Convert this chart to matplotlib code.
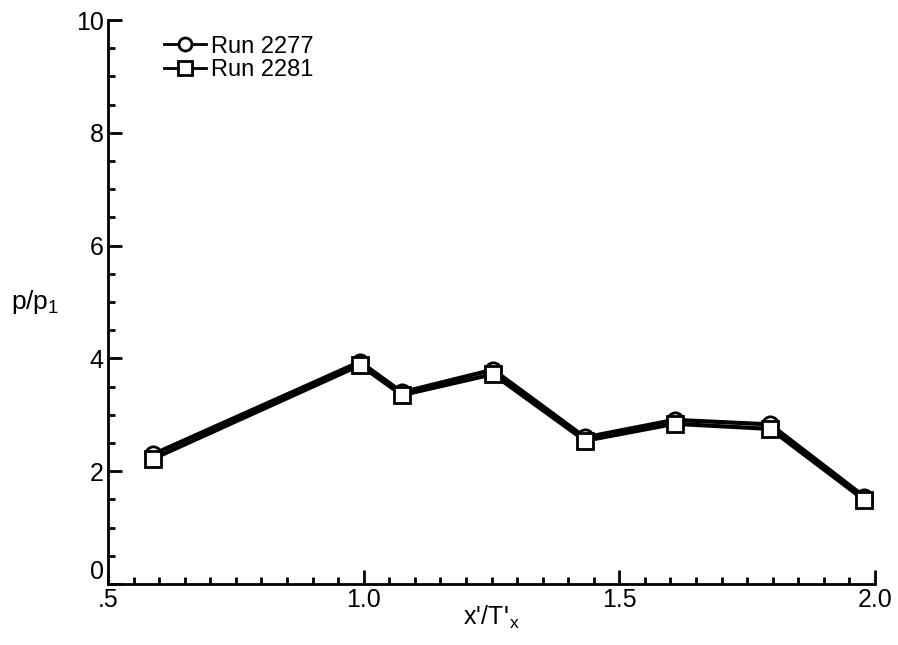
import matplotlib.pyplot as plt
from matplotlib.ticker import MultipleLocator, FixedLocator, FixedFormatter

plt.rcParams['font.family'] = ['Liberation Sans', 'DejaVu Sans']

# x'/T'x positions and pressure ratios
x_2277 = [0.588, 0.993, 1.075, 1.253, 1.433, 1.608, 1.795, 1.979]
p_2277 = [2.30, 3.94, 3.40, 3.80, 2.60, 2.91, 2.83, 1.55]
x_2281 = [0.588, 0.993, 1.075, 1.253, 1.433, 1.608, 1.795, 1.979]
p_2281 = [2.22, 3.88, 3.35, 3.72, 2.54, 2.84, 2.75, 1.49]

xticks = [0.5, 1.0, 1.5, 2.0]
xtick_labels = ['.5', '1.0', '1.5', '2.0']
yticks = [0, 2, 4, 6, 8, 10]

fig = plt.figure(figsize=(8.98, 6.45), dpi=100)
ax = fig.add_axes([108 / 898, 61 / 645, 767 / 898, 564 / 645])

ax.plot(x_2277, p_2277, '-o', color='black', lw=3, ms=11, mfc='white',
        mec='black', mew=2, label='Run 2277')
ax.plot(x_2281, p_2281, '-s', color='black', lw=3, ms=12, mfc='white',
        mec='black', mew=2, label='Run 2281')

ax.set_xlim(0.5, 2.0)
ax.set_ylim(0, 10)
ax.xaxis.set_major_locator(FixedLocator(xticks))
ax.xaxis.set_major_formatter(FixedFormatter(xtick_labels))
ax.xaxis.set_minor_locator(MultipleLocator(0.05))
ax.yaxis.set_major_locator(FixedLocator(yticks))
ax.yaxis.set_minor_locator(MultipleLocator(0.5))

for side in ['top', 'right']:
    ax.spines[side].set_visible(False)
for side in ['left', 'bottom']:
    ax.spines[side].set_linewidth(2)

ax.tick_params(which='both', direction='in', width=2, labelsize=18)
ax.tick_params(which='major', length=10, pad=3)
ax.tick_params(which='minor', length=5)

# the "0" on the y axis sits a little above the corner
ax.yaxis.get_major_ticks()[0].label1.set_verticalalignment('bottom')

ax.set_xlabel("x'/T$'_{\\mathregular{x}}$", fontsize=18, labelpad=-6)
ax.set_ylabel('p/p$_{\\mathregular{1}}$', fontsize=19, rotation=0)
ax.yaxis.set_label_coords(-0.095, 0.475)

leg = ax.legend(loc='upper left', bbox_to_anchor=(0.045, 1.01), frameon=False,
                fontsize=17, handlelength=1.8, handletextpad=0.2,
                labelspacing=0.05, markerscale=0.85)
for h in leg.get_lines():
    h.set_linewidth(2)

fig.savefig('out.png', dpi=100)
